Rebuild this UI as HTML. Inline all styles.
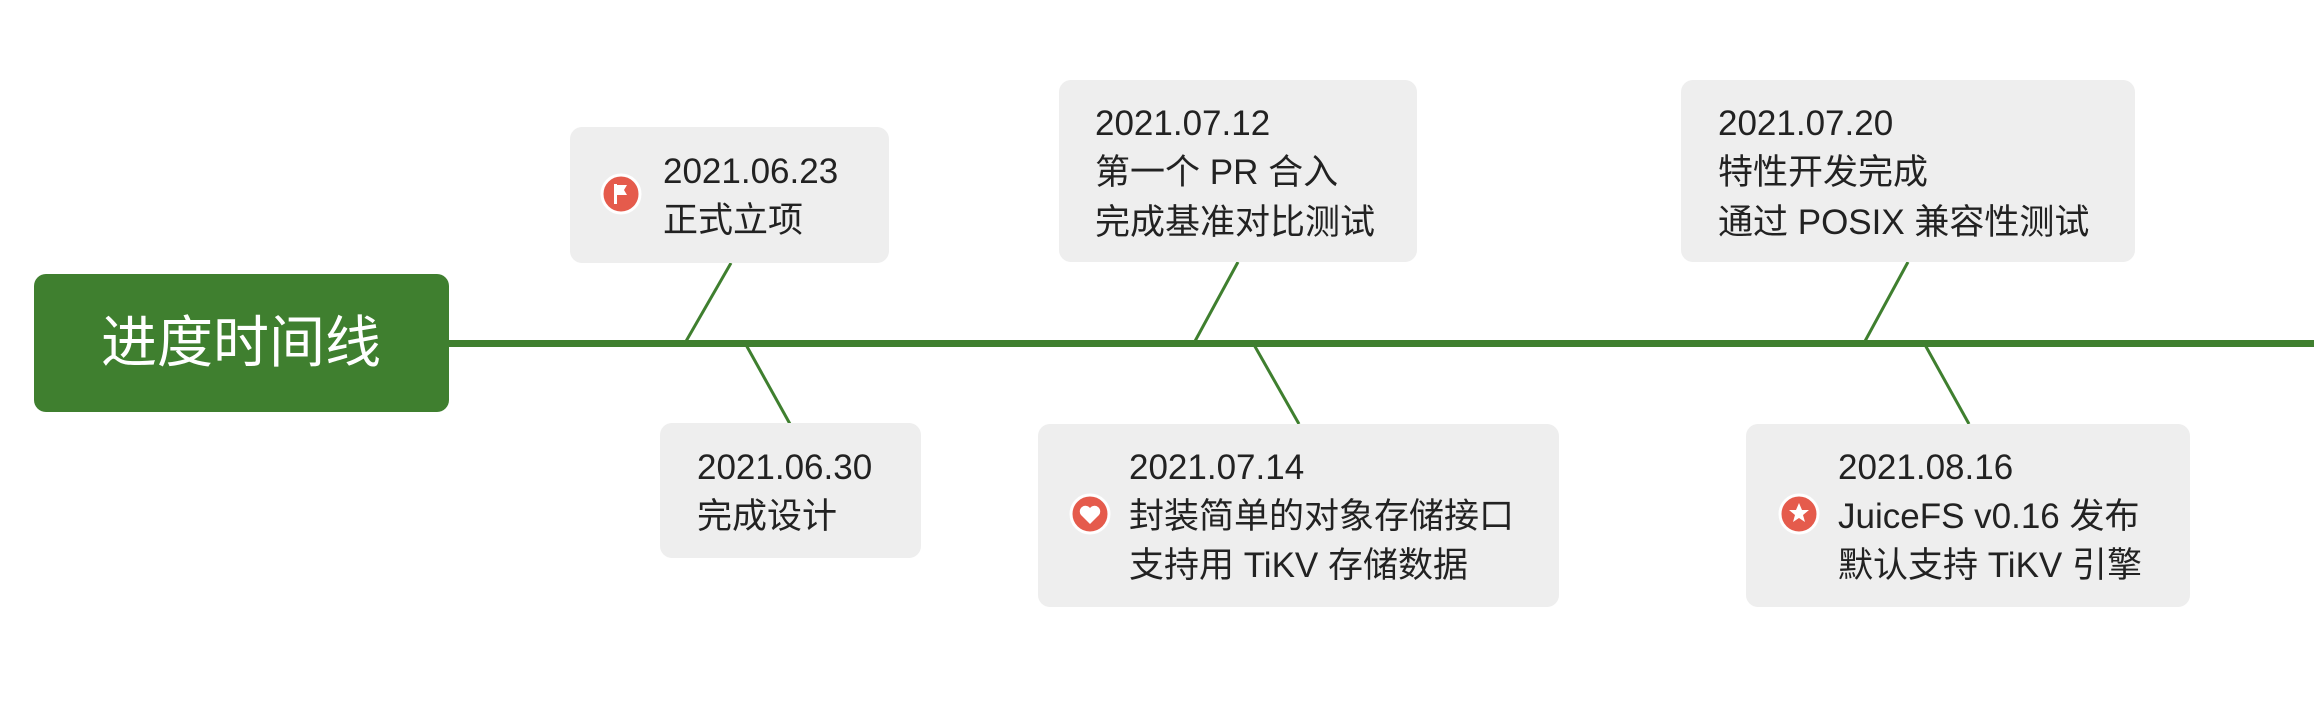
<!DOCTYPE html>
<html><head><meta charset="utf-8"><style>
html,body{margin:0;padding:0;background:#fff;}
svg{display:block;}
text{font-family:"Liberation Sans","Noto Sans CJK SC",sans-serif;fill:#222;font-size:35px;}
</style></head><body>
<svg width="2314" height="716" viewBox="0 0 2314 716" xmlns="http://www.w3.org/2000/svg">
<g stroke="#3f7f2f" stroke-width="3">
<line x1="731" y1="263" x2="685" y2="343"/>
<line x1="745" y1="343" x2="790" y2="424"/>
<line x1="1238" y1="262" x2="1194" y2="343"/>
<line x1="1253" y1="343" x2="1299" y2="424"/>
<line x1="1908" y1="262" x2="1864" y2="343"/>
<line x1="1924" y1="343" x2="1969" y2="424"/>
</g>
<rect x="449" y="340" width="1865" height="7" fill="#3f7f2f"/>
<rect x="34" y="274" width="415" height="138" rx="12" fill="#3f7f2f"/>
<text x="241" y="362" text-anchor="middle" style="fill:#fff;font-size:56px">进度时间线</text>
<g fill="#eeeeee">
<rect x="570" y="127" width="319" height="136" rx="12"/>
<rect x="660" y="423" width="261" height="135" rx="12"/>
<rect x="1059" y="80" width="358" height="182" rx="12"/>
<rect x="1681" y="80" width="454" height="182" rx="12"/>
<rect x="1038" y="424" width="521" height="183" rx="12"/>
<rect x="1746" y="424" width="444" height="183" rx="12"/>
</g>
<!-- icons -->
<circle cx="621" cy="194" r="19" fill="#e55b4c" stroke="#fff" stroke-width="3"/>
<path d="M614 184 h3 v20 h-3z M617 185 h10 l-3 5 3 5 h-10z" fill="#fff"/>
<circle cx="1090" cy="514" r="19" fill="#e55b4c" stroke="#fff" stroke-width="3"/>
<path d="M1090 524 l-9 -9 a5 5 0 0 1 9 -7 a5 5 0 0 1 9 7 z" fill="#fff"/>
<circle cx="1799" cy="514" r="19" fill="#e55b4c" stroke="#fff" stroke-width="3"/>
<path d="M1799 503 l3 7 7 0 -6 5 2 7 -6 -4 -6 4 2 -7 -6 -5 7 0z" fill="#fff"/>
<text x="663" y="183">2021.06.23</text>
<text x="663" y="232">正式立项</text>
<text x="697" y="479">2021.06.30</text>
<text x="697" y="528">完成设计</text>
<text x="1095" y="135">2021.07.12</text>
<text x="1095" y="184">第一个 PR 合入</text>
<text x="1095" y="234">完成基准对比测试</text>
<text x="1718" y="135">2021.07.20</text>
<text x="1718" y="184">特性开发完成</text>
<text x="1718" y="234">通过 POSIX 兼容性测试</text>
<text x="1129" y="479">2021.07.14</text>
<text x="1129" y="528">封装简单的对象存储接口</text>
<text x="1129" y="577">支持用 TiKV 存储数据</text>
<text x="1838" y="479">2021.08.16</text>
<text x="1838" y="528">JuiceFS v0.16 发布</text>
<text x="1838" y="577">默认支持 TiKV 引擎</text>
</svg>
</body></html>
